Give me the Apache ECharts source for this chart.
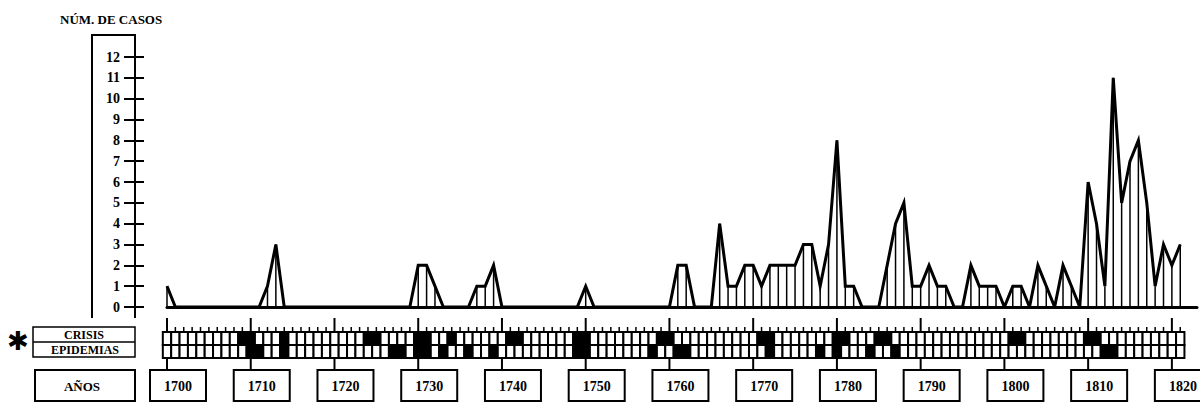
<!DOCTYPE html>
<html><head><meta charset="utf-8">
<script src="https://cdn.jsdelivr.net/npm/echarts@6/dist/echarts.min.js"></script>
<style>html,body{margin:0;padding:0;background:#fff}#c{width:1200px;height:402px}</style>
</head><body><div id="c"></div>
<script>
// ---- data ----
const startYear = 1700;
// number of cases per year, 1700 .. 1821
const cases = [
  1,0,0,0,0,0,0,0,0,0,   // 1700-1709
  0,0,1,3,0,0,0,0,0,0,   // 1710-1719
  0,0,0,0,0,0,0,0,0,0,   // 1720-1729
  2,2,1,0,0,0,0,1,1,2,   // 1730-1739
  0,0,0,0,0,0,0,0,0,0,   // 1740-1749
  1,0,0,0,0,0,0,0,0,0,   // 1750-1759
  0,2,2,0,0,0,4,1,1,2,   // 1760-1769
  2,1,2,2,2,2,3,3,1,3,   // 1770-1779
  8,1,1,0,0,0,2,4,5,1,   // 1780-1789
  1,2,1,1,0,0,2,1,1,1,   // 1790-1799
  0,1,1,0,2,1,0,2,1,0,   // 1800-1809
  6,4,1,11,5,7,8,5,1,3,  // 1810-1819
  2,3                    // 1820-1821
];
const crisisYears = [1709,1710,1714,1724,1725,1730,1731,1734,1741,1742,1749,1750,1759,1760,1771,1772,1780,1781,1785,1786,1801,1802,1810,1811];
const epidemicYears = [1710,1711,1714,1727,1728,1730,1731,1733,1736,1739,1749,1750,1758,1761,1762,1772,1778,1780,1784,1787,1812,1813];
const yTickLabels = ['0','1','2','3','4','5','6','7','8','9','10','11','12'];
const decadeLabels = ['1700','1710','1720','1730','1740','1750','1760','1770','1780','1790','1800','1810','1820'];
const titleText = 'NÚM. DE CASOS';
const rowLabels = ['CRISIS','EPIDEMIAS'];
const axisTitle = 'AÑOS';

// ---- derived tables ----
const years = cases.map((_, i) => startYear + i);
const caseData = years.map((y, i) => [y, cases[i]]);
const cellData = years.map(y => [y, crisisYears.includes(y) ? 1 : 0, epidemicYears.includes(y) ? 1 : 0]);
const decadeData = decadeLabels.map(l => [Number(l)]);

const SERIF = '"Liberation Serif", "DejaVu Serif", serif';

function renderCell(params, api) {
  const yr = api.value(0);
  const a = api.coord([yr - 0.5, 2]);
  const m = api.coord([yr + 0.5, 1]);
  const b = api.coord([yr + 0.5, 0]);
  const xc = api.coord([yr, 2])[0];
  const decade = yr % 10 === 0;
  const tickLen = decade ? 14 : 5;
  return {
    type: 'group',
    children: [
      { type: 'rect', shape: { x: a[0], y: a[1], width: m[0] - a[0], height: m[1] - a[1] },
        style: { fill: api.value(1) ? '#000' : '#fff', stroke: '#000', lineWidth: 2 } },
      { type: 'rect', shape: { x: a[0], y: m[1], width: m[0] - a[0], height: b[1] - m[1] },
        style: { fill: api.value(2) ? '#000' : '#fff', stroke: '#000', lineWidth: 2 } },
      { type: 'line', shape: { x1: xc, y1: a[1], x2: xc, y2: a[1] - tickLen },
        style: { stroke: '#000', lineWidth: decade ? 2 : 1.5 } }
    ]
  };
}

function renderDecade(params, api) {
  const p = api.coord([api.value(0), 0]);
  const top = p[1] + 12;
  return {
    type: 'group',
    children: [
      { type: 'line', shape: { x1: p[0], y1: p[1], x2: p[0], y2: top }, style: { stroke: '#000', lineWidth: 2 } },
      { type: 'rect', shape: { x: p[0] - 17, y: top, width: 56, height: 31 },
        style: { fill: '#fff', stroke: '#000', lineWidth: 2 } },
      { type: 'text', style: { x: p[0] + 11, y: top + 16, text: decadeLabels[params.dataIndex],
        align: 'center', verticalAlign: 'middle', fontFamily: SERIF, fontWeight: 'bold', fontSize: 14, fill: '#000' } }
    ]
  };
}

const chart = echarts.init(document.getElementById('c'), null, { renderer: 'svg' });
const option = {
  animation: false,
  backgroundColor: '#fff',
  grid: [
    { left: 167, top: 57, width: 1030, height: 250, outerBoundsMode: 'none', containLabel: false },
    { left: 167, top: 332, width: 1030, height: 26, outerBoundsMode: 'none', containLabel: false }
  ],
  xAxis: [
    { gridIndex: 0, type: 'value', min: 1700, max: 1823,
      axisLine: { show: true, onZero: true, lineStyle: { color: '#000', width: 3 } },
      axisTick: { show: false }, axisLabel: { show: false }, splitLine: { show: false } },
    { gridIndex: 1, type: 'value', min: 1700, max: 1823, show: false }
  ],
  yAxis: [
    { gridIndex: 0, type: 'value', min: 0, max: 12, interval: 1, position: 'left', offset: 32,
      axisLine: { show: false },
      axisTick: { show: true, length: 11, lineStyle: { color: '#000', width: 2 } },
      axisLabel: { margin: 15, color: '#000', fontFamily: SERIF, fontWeight: 'bold', fontSize: 14,
        formatter: v => yTickLabels[Math.round(v)] },
      splitLine: { show: false } },
    { gridIndex: 0, type: 'value', min: 0, max: 12, interval: 1, position: 'left', offset: 32,
      axisLine: { show: false },
      axisTick: { show: true, inside: true, length: 9, lineStyle: { color: '#000', width: 2 } },
      axisLabel: { show: false }, splitLine: { show: false } },
    { gridIndex: 1, type: 'value', min: 0, max: 2, show: false }
  ],
  graphic: [
    { type: 'text', left: 60, top: 13, style: { text: titleText, fontFamily: SERIF, fontWeight: 'bold', fontSize: 13, fill: '#000' } },
    { type: 'polyline', shape: { points: [[92, 318], [92, 35], [135, 35], [135, 318]] },
      style: { fill: null, stroke: '#000', lineWidth: 2 } },
    { type: 'rect', shape: { x: 33, y: 327, width: 102, height: 30 }, style: { fill: '#fff', stroke: '#000', lineWidth: 1.5 } },
    { type: 'line', shape: { x1: 33, y1: 342, x2: 135, y2: 342 }, style: { stroke: '#000', lineWidth: 1.5 } },
    { type: 'text', x: 84, y: 335, style: { text: rowLabels[0], align: 'center', verticalAlign: 'middle', fontFamily: SERIF, fontWeight: 'bold', fontSize: 12, fill: '#000' } },
    { type: 'text', x: 85, y: 350, style: { text: rowLabels[1], align: 'center', verticalAlign: 'middle', fontFamily: SERIF, fontWeight: 'bold', fontSize: 12, fill: '#000' } },
    { type: 'text', x: 18, y: 341, style: { text: '✱', align: 'center', verticalAlign: 'middle', fontFamily: '"DejaVu Sans", sans-serif', fontWeight: 'bold', fontSize: 26, fill: '#000' } },
    { type: 'rect', shape: { x: 35, y: 370, width: 100, height: 31 }, style: { fill: '#fff', stroke: '#000', lineWidth: 2 } },
    { type: 'text', x: 82, y: 386, style: { text: axisTitle, align: 'center', verticalAlign: 'middle', fontFamily: SERIF, fontWeight: 'bold', fontSize: 13, fill: '#000' } }
  ],
  series: [
    { type: 'bar', xAxisIndex: 0, yAxisIndex: 0, data: caseData, barWidth: 1.5,
      itemStyle: { color: '#000' }, silent: true, z: 2 },
    { type: 'line', xAxisIndex: 0, yAxisIndex: 0, data: caseData, symbol: 'none', showSymbol: false,
      lineStyle: { color: '#000', width: 3, join: 'miter', miterLimit: 6 }, silent: true, z: 3 },
    { type: 'custom', xAxisIndex: 1, yAxisIndex: 2, data: cellData, renderItem: renderCell, clip: false, silent: true, z: 2 },
    { type: 'custom', xAxisIndex: 1, yAxisIndex: 2, data: decadeData, renderItem: renderDecade, clip: false, silent: true, z: 2 }
  ]
};
chart.setOption(option);
</script>
</body></html>
